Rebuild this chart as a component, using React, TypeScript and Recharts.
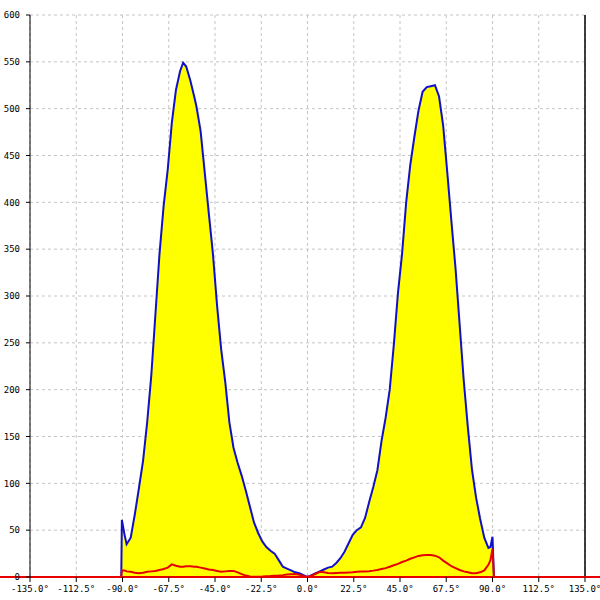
import { ComposedChart, Area, Line, XAxis, YAxis, CartesianGrid, ReferenceLine } from "recharts";

// angle (degrees) of each sample
const angles = [
  -135, -90.6, -90.3, -89, -88, -86, -84, -82, -80, -78, -76, -74, -72, -70, -68, -66, -64, -62, -60.5,
  -59, -57, -55, -54, -52, -50, -48, -46, -44, -42, -40, -38, -36, -34, -32, -30, -28, -26, -24, -22,
  -20, -18, -16, -14, -12, -10, -8, -6, -4, -2, 0, 2, 4, 6, 8, 10, 12, 14, 16, 18, 20, 22, 24, 26, 28,
  30, 32, 34, 36, 38, 40, 42, 44, 46, 48, 50, 52, 54, 56, 58, 60, 62, 64, 66, 68, 70, 72, 74, 76, 78,
  80, 82, 84, 86, 88, 89, 90, 90.7, 135,
];

// total intensity (yellow area, blue outline)
const total = [
  0, 0, 61, 45, 35, 42, 67, 95, 124, 165, 215, 280, 345, 396, 435, 485, 520, 540, 549,
  545, 530, 512, 502, 476, 432, 388, 345, 290, 243, 208, 165, 138, 122, 108, 92, 75, 58, 47, 38,
  32, 28, 25, 18, 11, 9, 7, 5, 4, 2, 0, 2, 4, 6, 8, 10, 11, 15, 20, 27, 36, 45, 50, 53, 63,
  80, 96, 114, 145, 170, 200, 248, 303, 345, 400, 440, 470, 498, 518, 523, 524, 525, 513, 482, 432, 380, 330, 270, 210, 160,
  115, 85, 62, 42, 31, 32, 43, 0, 0,
];

// secondary component (red line)
const secondary = [
  0, 0, 7, 7, 6, 5.5, 4.5, 4, 4.5, 5.5, 6, 6.5, 7.5, 8.5, 10, 13.5, 12, 11, 11,
  11.5, 11.5, 11, 11, 10, 9, 8, 7.5, 6.5, 5.5, 6, 6.5, 6.5, 5, 3, 1.5, 0.5, 0.3, 0.3, 0.5,
  0.8, 1, 1.3, 1.6, 2, 2.6, 3, 3.2, 2.5, 1, 0, 1.5, 3.5, 5.5, 5, 4.2, 4, 4.3, 4.6, 4.6, 4.8, 5, 5.5, 5.8, 6,
  6.2, 6.8, 7.5, 8.5, 9.5, 11, 12.5, 14, 16, 17.5, 19.5, 21, 22.5, 23.3, 23.5, 23.5, 22.8, 21, 17.5, 14.5, 11.5, 9.5, 7.5, 6, 5,
  4, 4, 5, 7, 13, 18, 30, 0, 0,
];

const xTicks = [-135, -112.5, -90, -67.5, -45, -22.5, 0, 22.5, 45, 67.5, 90, 112.5, 135];
const yTicks = [0, 50, 100, 150, 200, 250, 300, 350, 400, 450, 500, 550, 600];

const data = angles.map((a, i) => ({ angle: a, total: total[i], secondary: secondary[i] }));

const tickFont = { fontFamily: "DejaVu Sans Mono, monospace", fontSize: 9, fill: "#000" };

export default function App() {
  return (
    <div style={{ position: "absolute", left: 0, top: 0, width: 600, height: 600, background: "#fff" }}>
      <ComposedChart width={600} height={600} data={data} margin={{ top: 15, right: 15, left: 0, bottom: 0 }}>
        <CartesianGrid strokeDasharray="3 3" stroke="#c4c4c4" />
        <XAxis
          dataKey="angle"
          type="number"
          domain={[-135, 135]}
          ticks={xTicks}
          height={23}
          tick={tickFont}
          tickLine={{ stroke: "#000" }}
          tickSize={5}
          tickMargin={4}
          axisLine={false}
          interval={0}
          tickFormatter={(v: number) => `${v.toFixed(1)}°`}
        />
        <YAxis
          type="number"
          domain={[0, 600]}
          ticks={yTicks}
          width={30}
          tick={tickFont}
          tickLine={{ stroke: "#000" }}
          tickSize={4}
          tickMargin={6}
          axisLine={{ stroke: "#000" }}
          interval={0}
        />
        <ReferenceLine x={135} stroke="#000" strokeWidth={1.5} />
        <Area
          type="linear"
          dataKey="total"
          stroke="#1010c8"
          strokeWidth={2}
          fill="#ffff00"
          fillOpacity={1}
          isAnimationActive={false}
        />
        <Line
          type="linear"
          dataKey="secondary"
          stroke="#e60000"
          strokeWidth={2}
          dot={false}
          isAnimationActive={false}
        />
        <ReferenceLine
          segment={[{ x: -150, y: 0 }, { x: 150, y: 0 }]}
          stroke="#e60000"
          strokeWidth={2}
          ifOverflow="visible"
        />
      </ComposedChart>
    </div>
  );
}
